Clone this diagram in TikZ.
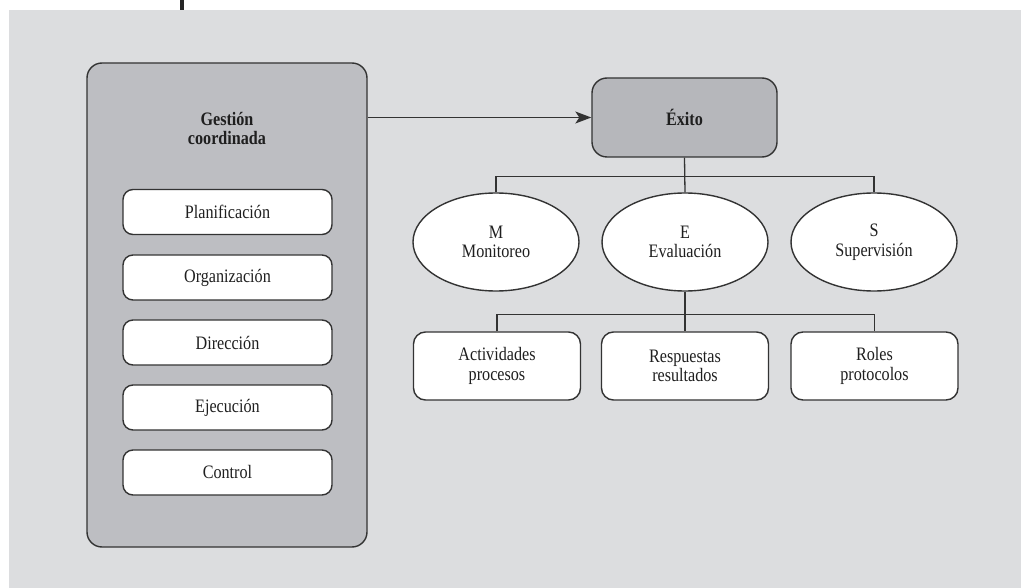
\documentclass[tikz,border=0pt]{standalone}
\usepackage{fontspec}
\setmainfont{Liberation Serif}[FakeStretch=0.85]
\usetikzlibrary{arrows.meta,shapes.geometric}
\definecolor{panelgray}{HTML}{DCDDDF}
\definecolor{boxgray}{HTML}{BDBEC2}
\definecolor{headgray}{HTML}{B6B7BB}
\definecolor{inkline}{HTML}{333333}
\begin{document}
\begin{tikzpicture}[x=1pt,y=-1pt,
  txt/.style={font=\fontsize{19}{19.5}\selectfont, align=center, text=black!88},
  boldtxt/.style={txt, font=\fontsize{19}{19}\selectfont\bfseries},
  outerbox/.style={draw=inkline, line width=1.4pt, fill=boxgray, rounded corners=15pt,
    minimum width=280pt, minimum height=484pt, inner sep=0pt},
  headbox/.style={boldtxt, draw=inkline, line width=1.4pt,
    fill=headgray, rounded corners=15pt, minimum width=185pt, minimum height=79pt},
  itembox/.style={txt, draw=inkline, line width=1.4pt, fill=white, rounded corners=10pt,
    minimum width=209pt, minimum height=45pt},
  leafbox/.style={txt, draw=inkline, line width=1.4pt, fill=white, rounded corners=12pt,
    minimum width=167pt, minimum height=68pt},
  oval/.style={txt, ellipse, draw=inkline, line width=1.4pt, fill=white,
    minimum width=166pt, minimum height=98pt, inner sep=0pt},
  link/.style={draw=inkline, line width=1.3pt},
  arrowlink/.style={link, -{Stealth[length=16pt,width=12pt,inset=4pt]}}
]
\useasboundingbox (0,0) rectangle (1021,588);
% panel and top marker
\fill[panelgray] (9,10) rectangle (1021,588);
\fill[black!85] (180,0) rectangle (184,10);

% left column: coordinated management
\node[outerbox] (mgmt) at (227,305) {};
\node[boldtxt] (mgmttitle) at (227,128) {Gestión\\coordinada};
\node[itembox] (plan) at (227.5,212) {Planificación};
\node[itembox] (org)  at (227.5,277.5) {Organización};
\node[itembox] (dir)  at (227.5,342.5) {Dirección};
\node[itembox] (ejec) at (227.5,407.5) {Ejecución};
\node[itembox] (ctrl) at (227.5,472.5) {Control};

% right side: success tree
\node[headbox] (exito) at (684.5,117.5) {Éxito};
\node[oval] (mon) at (496,242) {M\\Monitoreo};
\node[oval] (eva) at (685,242) {E\\Evaluación};
\node[oval] (sup) at (874,242) {S\\Supervisión};
\node[leafbox] (act)  at (497,366) {Actividades\\procesos};
\node[leafbox] (resp) at (685,366) {Respuestas\\resultados};
\node[leafbox] (rol)  at (874.5,366) {Roles\\protocolos};

% connectors
\draw[arrowlink] (exito.west -| mgmt.east) -- (exito.west);
\draw[link] (exito.south) -- (eva.north);
\draw[link] (mon.north) -- ++(0,-16) -| (sup.north);
\draw[link] (eva.south) -- (resp.north);
\draw[link] (act.north) -- ++(0,-17) -| (rol.north);
\end{tikzpicture}
\end{document}
